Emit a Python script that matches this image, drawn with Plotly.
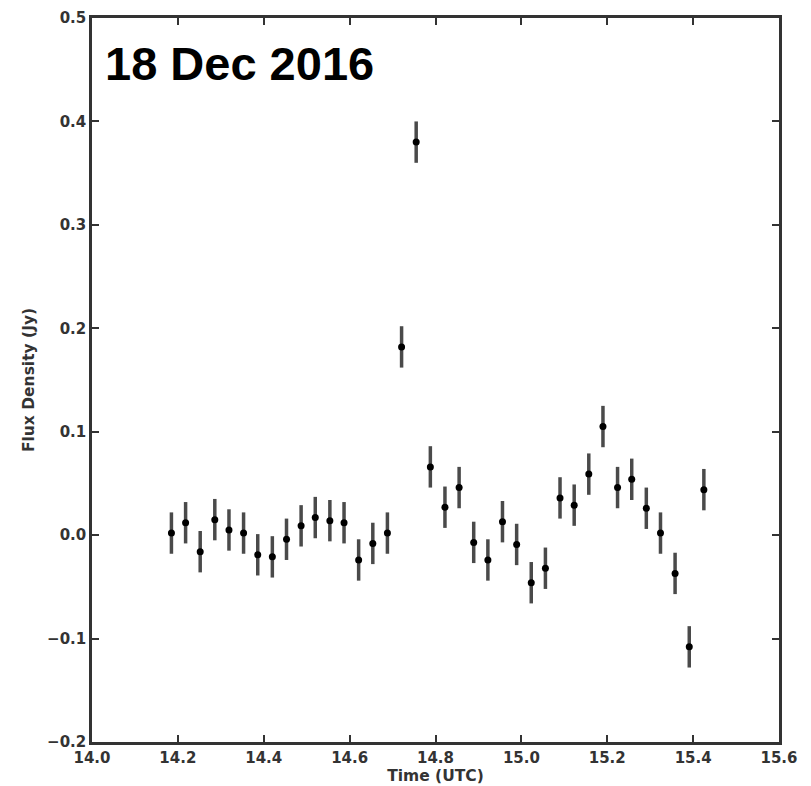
import plotly.graph_objects as go

time_utc = [14.185, 14.218, 14.252, 14.286, 14.319, 14.353, 14.386, 14.420,
            14.453, 14.487, 14.520, 14.554, 14.587, 14.621, 14.654, 14.688,
            14.721, 14.755, 14.788, 14.822, 14.855, 14.889, 14.922, 14.956,
            14.989, 15.023, 15.056, 15.090, 15.123, 15.157, 15.190, 15.224,
            15.257, 15.291, 15.324, 15.358, 15.391, 15.425]
flux_jy = [0.002, 0.012, -0.016, 0.015, 0.005, 0.002, -0.019, -0.021,
           -0.004, 0.009, 0.017, 0.014, 0.012, -0.024, -0.008, 0.002,
           0.182, 0.380, 0.066, 0.027, 0.046, -0.007, -0.024, 0.013,
           -0.009, -0.046, -0.032, 0.036, 0.029, 0.059, 0.105, 0.046,
           0.054, 0.026, 0.002, -0.037, -0.108, 0.044]
flux_err = [0.02] * len(flux_jy)

x_ticks = [14.0, 14.2, 14.4, 14.6, 14.8, 15.0, 15.2, 15.4, 15.6]
y_ticks = [-0.2, -0.1, 0.0, 0.1, 0.2, 0.3, 0.4, 0.5]

fig = go.Figure(go.Scatter(
    x=time_utc, y=flux_jy, mode="markers",
    marker=dict(color="black", size=7),
    error_y=dict(type="data", array=flux_err, visible=True, width=0,
                 thickness=3.5, color="#4a4a4a"),
    showlegend=False,
))

axis_common = dict(
    showgrid=False, zeroline=False, showline=True, linecolor="#333333",
    linewidth=2.5, mirror="allticks", ticks="inside", ticklen=7, tickwidth=1.5,
    tickcolor="#333333", ticklabeloverflow="allow",
    tickfont=dict(family="DejaVu Sans", size=15, color="#333333", weight="bold"),
)
title_font = dict(family="DejaVu Sans", size=15.5, color="#333333", weight="bold")

fig.update_xaxes(range=[14.0, 15.6], tickvals=x_ticks,
                 ticktext=[f"{v:.1f}" for v in x_ticks],
                 ticklabelstandoff=0,
                 title=dict(text="Time (UTC)", standoff=2, font=title_font),
                 **axis_common)
fig.update_yaxes(range=[-0.2, 0.5], tickvals=y_ticks,
                 ticktext=[("\u2212" if v < 0 else "") + f"{abs(v):.1f}" for v in y_ticks],
                 ticklabelstandoff=0,
                 title=dict(text="Flux Density (Jy)", standoff=9, font=title_font),
                 **axis_common)

fig.add_annotation(text="<b>18 Dec 2016</b>", xref="paper", yref="paper",
                   x=0.016, y=0.937, xanchor="left", yanchor="middle",
                   showarrow=False,
                   font=dict(family="Liberation Sans", size=47, color="black"))

fig.update_layout(
    width=811, height=786,
    margin=dict(l=84, r=40, t=10, b=52, autoexpand=False),
    plot_bgcolor="white", paper_bgcolor="white",
)

fig.write_html("out.html")
